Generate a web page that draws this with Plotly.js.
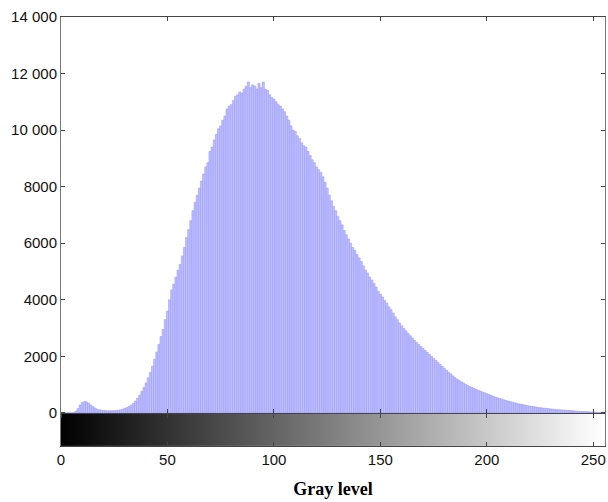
<!DOCTYPE html>
<html>
<head>
<meta charset="utf-8">
<script src="https://cdn.plot.ly/plotly-3.0.1.min.js"></script>
<style>html,body{margin:0;padding:0;background:#fff;}#chart{width:608px;height:502px;}</style>
</head>
<body>
<div id="chart"></div>
<script>
// Gray levels 0..255
const grayLevels = Array.from({length: 256}, (_, i) => i);

// Pixel counts per gray level
const counts = [
  0, 0, 0, 0, 0, 0, 0, 60, 150, 280,
  370, 400, 390, 340, 280, 220, 170, 130, 110, 95,
  85, 80, 75, 75, 78, 80, 85, 95, 110, 130,
  160, 190, 230, 280, 340, 420, 520, 630, 760, 900,
  1060, 1240, 1430, 1650, 1900, 2150, 2420, 2700, 2950, 3300,
  3600, 4000, 4350, 4550, 4800, 5050, 5250, 5550, 5850, 6200,
  6480, 6800, 7150, 7450, 7700, 7950, 8200, 8450, 8700, 8850,
  9250, 9400, 9650, 9850, 10050, 10150, 10350, 10500, 10750, 10850,
  10900, 11050, 11200, 11250, 11350, 11300, 11450, 11550, 11700, 11500,
  11600, 11550, 11450, 11650, 11500, 11700, 11450, 11400, 11250, 11150,
  11100, 11000, 10900, 10850, 10750, 10650, 10500, 10350, 10150, 10000,
  9950, 9800, 9700, 9550, 9450, 9400, 9250, 9100, 8950, 8850,
  8700, 8600, 8500, 8350, 8150, 7950, 7700, 7500, 7300, 7150,
  6950, 6800, 6650, 6450, 6300, 6150, 6000, 5850, 5750, 5600,
  5480, 5350, 5200, 5050, 4950, 4800, 4700, 4580, 4450, 4300,
  4200, 4100, 3980, 3880, 3750, 3650, 3530, 3400, 3300, 3180,
  3080, 2990, 2900, 2810, 2730, 2650, 2570, 2490, 2420, 2350,
  2280, 2210, 2140, 2070, 2000, 1930, 1860, 1790, 1720, 1650,
  1580, 1510, 1440, 1380, 1310, 1250, 1200, 1150, 1100, 1060,
  1010, 970, 930, 900, 860, 830, 800, 770, 740, 710,
  680, 650, 620, 590, 560, 535, 510, 485, 460, 440,
  420, 400, 380, 360, 340, 320, 305, 290, 275, 260,
  245, 230, 220, 210, 195, 185, 175, 165, 158, 150,
  140, 132, 125, 118, 112, 106, 100, 94, 88, 82,
  76, 70, 64, 58, 54, 50, 46, 42, 38, 34,
  30, 28, 25, 22, 20, 18
];

// Axis ticks
const yTickVals = [0, 2000, 4000, 6000, 8000, 10000, 12000, 14000];
const yTickText = ['0', '2000', '4000', '6000', '8000', '10 000', '12 000', '14 000'];
const xTickVals = [0, 50, 100, 150, 200, 250];
const xTickText = ['0', '50', '100', '150', '200', '250'];

// Gray ramp below the histogram
const rampBottom = -1170;
const rampEdges = [rampBottom, 0];
const rampValues = [grayLevels];

const axisColor = '#444';

const traces = [
  {
    type: 'heatmap',
    x: grayLevels,
    y: rampEdges,
    z: rampValues,
    zmin: 0,
    zmax: 255,
    colorscale: [[0, '#000000'], [1, '#ffffff']],
    showscale: false,
    hoverinfo: 'skip'
  },
  {
    type: 'bar',
    x: grayLevels,
    y: counts,
    marker: {color: 'rgb(190,190,255)', line: {color: 'rgb(158,158,250)', width: 0.6}},
    hoverinfo: 'x+y'
  }
];

const layout = {
  width: 608,
  height: 502,
  margin: {l: 61, r: 3, t: 17, b: 56},
  paper_bgcolor: '#ffffff',
  plot_bgcolor: '#ffffff',
  showlegend: false,
  bargap: 0,
  font: {family: 'Liberation Sans, Arial, sans-serif', size: 15, color: '#111'},
  xaxis: {
    range: [0, 255.5],
    tickvals: xTickVals,
    ticktext: xTickText,
    ticks: 'inside',
    ticklen: 4,
    tickcolor: axisColor,
    showline: true,
    linecolor: axisColor,
    linewidth: 1,
    mirror: 'ticks',
    showgrid: false,
    zeroline: false,
    title: {text: '<b>Gray level</b>', font: {family: 'Liberation Serif, Times New Roman, serif', size: 18, color: '#000'}, standoff: 15}
  },
  xaxis2: {
    overlaying: 'x',
    matches: 'x',
    anchor: 'free',
    position: (0 - rampBottom) / (14000 - rampBottom),
    side: 'bottom',
    tickvals: xTickVals,
    ticks: 'inside',
    ticklen: 4,
    tickcolor: axisColor,
    showticklabels: false,
    showline: true,
    linecolor: axisColor,
    linewidth: 1.2,
    showgrid: false,
    zeroline: false
  },
  xaxis3: {
    overlaying: 'x',
    matches: 'x',
    anchor: 'free',
    position: (0 - rampBottom) / (14000 - rampBottom),
    side: 'bottom',
    tickvals: xTickVals,
    ticks: 'outside',
    ticklen: 4,
    tickcolor: axisColor,
    showticklabels: false,
    showline: false,
    showgrid: false,
    zeroline: false
  },
  yaxis: {
    range: [rampBottom, 14000],
    tickvals: yTickVals,
    ticktext: yTickText,
    ticks: 'inside',
    ticklen: 4,
    tickcolor: axisColor,
    showline: true,
    linecolor: '#777',
    linewidth: 1,
    mirror: 'ticks',
    showgrid: false,
    zeroline: false
  }
};

// dummy traces so overlay axes are drawn
traces.push({type: 'scatter', x: [0], y: [0], xaxis: 'x2', mode: 'markers', marker: {opacity: 0}, hoverinfo: 'skip'});
traces.push({type: 'scatter', x: [0], y: [0], xaxis: 'x3', mode: 'markers', marker: {opacity: 0}, hoverinfo: 'skip'});

Plotly.newPlot('chart', traces, layout, {displayModeBar: false, staticPlot: true});
</script>
</body>
</html>
